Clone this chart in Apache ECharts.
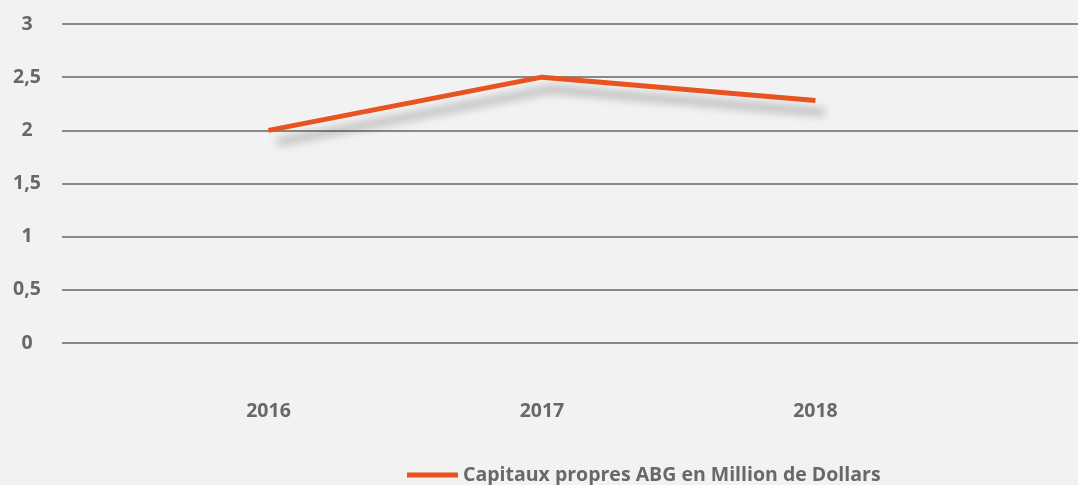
<!DOCTYPE html>
<html lang="fr">
<head>
  <meta charset="UTF-8">
  <title>Capitaux propres ABG</title>
  <script src="https://cdn.jsdelivr.net/npm/echarts@6/dist/echarts.min.js"></script>
  <style type="text/css">
    html, body { margin: 0; padding: 0; background: #f2f2f2; }
    #main { width: 1078px; height: 485px; }
  </style>
</head>
<body>
<div id="main"></div>
<script type="text/javascript">
// donnees
var years = [2016, 2017, 2018];
var capitaux = [2, 2.5, 2.28];
var seriesName = 'Capitaux propres ABG en Million de Dollars';

var textGrey = '#686868';
var lineData = [];
for (var i = 0; i < years.length; i++) {
  lineData.push([years[i], capitaux[i]]);
}

var myChart = echarts.init(document.getElementById('main'));
var option = {
  backgroundColor: '#f2f2f2',
  textStyle: { fontFamily: 'Open Sans' },
  grid: { left: 62, right: 0, top: 24, bottom: 142 },
  legend: {
    left: 402,
    top: 460,
    icon: 'rect',
    itemWidth: 51,
    itemHeight: 5,
    itemGap: 7,
    data: [seriesName],
    textStyle: { color: textGrey, fontSize: 19.5, fontWeight: 'bold', fontFamily: 'Open Sans' }
  },
  xAxis: {
    type: 'value',
    min: 2015.245,
    max: 2018.96,
    axisLine: { show: false },
    axisTick: { show: false },
    splitLine: { show: false },
    axisLabel: {
      customValues: years,
      margin: 58,
      color: textGrey,
      fontSize: 19.5,
      fontWeight: 'bold',
      formatter: function (v) { return String(v); }
    }
  },
  yAxis: {
    type: 'value',
    min: 0,
    max: 3,
    interval: 0.5,
    axisLine: { show: false },
    axisTick: { show: false },
    splitLine: { lineStyle: { color: '#646464', width: 1.5 } },
    axisLabel: {
      align: 'center',
      margin: 35,
      color: textGrey,
      fontSize: 19.5,
      fontWeight: 'bold',
      formatter: function (v) { return String(v).replace('.', ','); }
    }
  },
  series: [
    {
      name: seriesName,
      type: 'line',
      data: lineData,
      showSymbol: false,
      symbol: 'none',
      color: '#e8531f',
      lineStyle: {
        width: 5,
        color: '#e8531f',
        cap: 'butt',
        shadowColor: 'rgba(0,0,0,0.35)',
        shadowBlur: 10,
        shadowOffsetX: 9,
        shadowOffsetY: 12
      }
    }
  ]
};
myChart.setOption(option);
</script>
</body>
</html>
